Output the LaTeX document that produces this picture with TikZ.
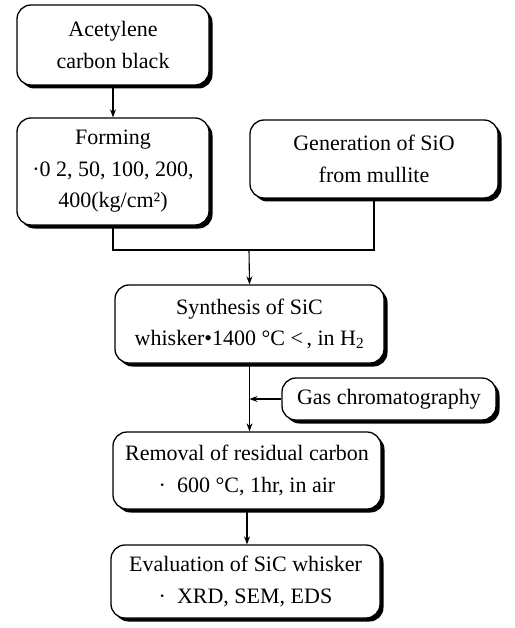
\documentclass[tikz,border=0pt]{standalone}
\usepackage{fontspec}
\setmainfont{Liberation Serif}
\usetikzlibrary{shadows,arrows.meta}
\begin{document}
\begin{tikzpicture}[x=1pt,y=-1pt,
  box/.style={draw,line width=1.3pt,rounded corners=14pt,fill=white,align=center,
    inner sep=0pt,font=\fontsize{22}{31.5}\selectfont,
    drop shadow={shadow xshift=3.5pt,shadow yshift=-3.5pt,opacity=1,fill=black}},
  conn/.style={line width=1.1pt},
  arr/.style={conn,-{Stealth[length=8pt,width=6pt]}}]
\useasboundingbox (0,0) rectangle (514,628);
\node[box,minimum width=192pt,minimum height=80pt] (acet) at (113,45) {Acetylene\\carbon black};
\node[box,minimum width=192pt,minimum height=107pt] (form) at (113,171.5) {Forming\\·0 2, 50, 100, 200,\\400(kg/cm²)};
\node[box,minimum width=248pt,minimum height=78pt] (gen) at (374,159) {Generation of SiO\\from mullite};
\node[box,minimum width=269pt,minimum height=78pt] (syn) at (249.5,324) {Synthesis of SiC\\whisker•1400 °C \textless\,, in H\textsubscript{2}};
\node[box,minimum width=214pt,minimum height=42pt] (gas) at (389,399) {Gas chromatography};
\node[box,minimum width=268pt,minimum height=77pt] (rem) at (247,470.5) {Removal of residual carbon\\·\ \ 600 °C, 1hr, in air};
\node[box,minimum width=269pt,minimum height=73pt] (eva) at (245.5,581.5) {Evaluation of SiC whisker\\·\ \ XRD, SEM, EDS};
\coordinate (join) at (249,250);
\draw[arr] (acet) -- (form);
\draw[conn] (form.south) |- (join) -| (gen.south);
\draw[arr] (join) -- (syn.north);
\draw[arr] (syn.south) -- (syn.south |- rem.north);
\draw[arr] (gas.west) -- (gas.west -| syn.south);
\draw[arr] (rem.south) -- (rem.south |- eva.north);
\end{tikzpicture}
\end{document}
